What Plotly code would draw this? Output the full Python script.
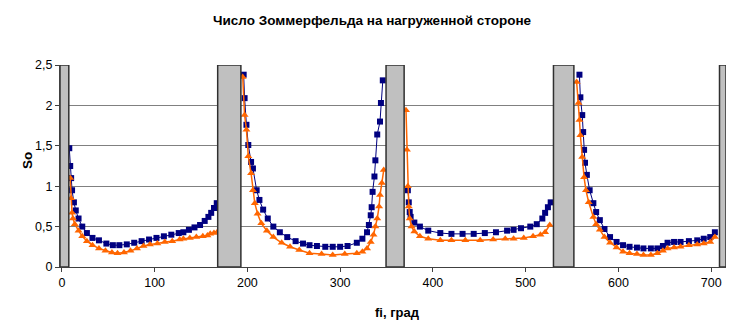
import plotly.graph_objects as go

# ---- data ----
blue_x = [8, 9, 10, 11, 13, 15, 18, 22, 27, 33, 40, 48, 55, 62, 70, 78, 86, 94, 102, 110, 118, 126, 131, 137, 143, 149, 154, 158, 161, 164, 167,
          None,
          196, 197, 199, 201, 204, 206, 210, 213, 217, 222, 228, 235, 243, 252, 260, 267, 275, 284, 292, 300, 308, 318, 324, 329, 331, 333, 334, 335, 337, 338, 340, 343, 344, 346,
          None,
          373, 374, 375, 376, 380, 386, 395, 408, 420, 432, 444, 456, 468, 480, 487, 495, 505, 512, 518, 521, 524, 527,
          None,
          558, 559, 561, 562, 563, 564, 566, 569, 573, 576, 580, 585, 591, 598, 605, 612, 620, 627, 635, 642, 648, 653, 660, 667, 676, 685, 692, 699, 704]
blue_y = [1.47, 1.25, 1.10, 0.95, 0.80, 0.70, 0.60, 0.50, 0.42, 0.36, 0.33, 0.29, 0.27, 0.27, 0.28, 0.30, 0.32, 0.34, 0.36, 0.38, 0.40, 0.42, 0.43, 0.46, 0.49, 0.52, 0.57, 0.62, 0.67, 0.73, 0.79,
          None,
          2.38, 2.09, 1.76, 1.51, 1.30, 1.22, 0.95, 0.83, 0.71, 0.60, 0.50, 0.43, 0.37, 0.32, 0.29, 0.27, 0.26, 0.25, 0.25, 0.25, 0.26, 0.30, 0.35, 0.43, 0.52, 0.64, 0.74, 0.93, 1.12, 1.32, 1.64, 1.80, 2.03, 2.31,
          None,
          0.95, 0.80, 0.68, 0.62, 0.55, 0.50, 0.45, 0.42, 0.41, 0.41, 0.41, 0.42, 0.43, 0.45, 0.46, 0.48, 0.50, 0.53, 0.60, 0.67, 0.74, 0.80,
          None,
          2.38, 2.10, 1.88, 1.67, 1.45, 1.29, 1.14, 0.95, 0.79, 0.68, 0.58, 0.47, 0.37, 0.31, 0.27, 0.25, 0.24, 0.23, 0.23, 0.23, 0.26, 0.30, 0.31, 0.31, 0.32, 0.33, 0.35, 0.37, 0.43]

orange_x = [9, 10, 11, 12, 14, 18, 22, 27, 33, 40, 47, 54, 60, 67, 74, 81, 88, 95, 103, 111, 119, 127, 131, 138, 145, 152, 157, 160, 164, 168,
            None,
            195, 197, 199, 201, 204, 206, 208, 211, 215, 221, 228, 237, 246, 256, 267, 280, 292, 305, 318, 324, 329, 333, 336, 338, 340, 342, 343, 345, 347,
            None,
            371, 372, 373, 374, 375, 377, 380, 386, 395, 408, 420, 435, 451, 465, 478, 487, 498, 508, 516, 521, 526,
            None,
            555, 557, 558, 559, 561, 563, 565, 568, 573, 576, 580, 585, 591, 598, 605, 612, 620, 627, 635, 642, 648, 653, 660, 667, 676, 685, 692, 699, 704]
orange_y = [1.10, 0.85, 0.67, 0.60, 0.53, 0.45, 0.38, 0.32, 0.27, 0.23, 0.20, 0.18, 0.17, 0.18, 0.20, 0.23, 0.26, 0.28, 0.29, 0.31, 0.32, 0.34, 0.35, 0.36, 0.37, 0.38, 0.39, 0.41, 0.42, 0.44,
            None,
            2.35, 1.88, 1.70, 1.37, 1.16, 0.95, 0.79, 0.66, 0.54, 0.45, 0.37, 0.30, 0.25, 0.21, 0.17, 0.16, 0.15, 0.16, 0.17, 0.19, 0.23, 0.31, 0.40, 0.50, 0.60, 0.75, 0.89, 1.04, 1.20,
            None,
            1.94, 1.45, 1.00, 0.75, 0.60, 0.50, 0.44, 0.38, 0.35, 0.33, 0.33, 0.33, 0.33, 0.34, 0.35, 0.35, 0.36, 0.38, 0.40, 0.43, 0.52,
            None,
            2.29, 2.03, 1.82, 1.63, 1.36, 1.11, 0.95, 0.80, 0.62, 0.53, 0.46, 0.37, 0.30, 0.24, 0.19, 0.17, 0.16, 0.15, 0.15, 0.17, 0.20, 0.23, 0.24, 0.25, 0.27, 0.28, 0.29, 0.31, 0.37]

gray_zones = [(-2, 7.5), (168, 193), (349.5, 369), (530, 552), (709, 716)]

x_ticks = [0, 100, 200, 300, 400, 500, 600, 700]
y_ticks = [0, 0.5, 1, 1.5, 2, 2.5]

title_text = "Число Зоммерфельда на нагруженной стороне"
x_title = "fi, град"
y_title = "So"

FONT = "Liberation Sans, Arial, sans-serif"

# page body has an 8px margin; figure sized so the plot lands where the reference has it
PW, PH = 666, 202  # plot area size in px

fig = go.Figure()
fig.add_trace(go.Scatter(
    x=blue_x, y=blue_y, mode="lines+markers",
    line=dict(color="#000080", width=1),
    marker=dict(symbol="square", size=6, color="#000080"),
    connectgaps=False, showlegend=False))
fig.add_trace(go.Scatter(
    x=orange_x, y=orange_y, mode="lines+markers",
    line=dict(color="#FF6600", width=1.5),
    marker=dict(symbol="triangle-up", size=7, color="#FF6600"),
    connectgaps=False, showlegend=False))

for x0, x1 in gray_zones:
    fig.add_shape(type="rect", xref="x", yref="y", x0=x0, x1=x1, y0=0, y1=2.5,
                  fillcolor="#C0C0C0", line=dict(color="#303030", width=1.5), layer="above")

fig.update_layout(
    width=733, height=313,
    margin=dict(l=52, r=15, t=57, b=54),
    paper_bgcolor="white", plot_bgcolor="white",
    separators=", ",
    font=dict(family=FONT, size=12, color="#000000"),
    showlegend=False,
)
fig.add_annotation(text="<b>" + title_text + "</b>", xref="paper", yref="paper",
                   x=(372 - 60) / PW, y=1 + (65 - 20) / PH, showarrow=False,
                   font=dict(size=13.5, family=FONT), xanchor="center", yanchor="middle")
fig.add_annotation(text="<b>" + x_title + "</b>", xref="paper", yref="paper",
                   x=(397 - 60) / PW, y=-(312 - 267) / PH, showarrow=False,
                   font=dict(size=13, family=FONT), xanchor="center", yanchor="middle")
fig.add_annotation(text="<b>" + y_title + "</b>", xref="paper", yref="paper",
                   x=-(60 - 27) / PW, y=(267 - 161) / PH, showarrow=False, textangle=-90,
                   font=dict(size=13.5, family=FONT), xanchor="center", yanchor="middle")

fig.update_xaxes(range=[-2, 716], tickvals=x_ticks, showgrid=False, zeroline=False,
                 showline=True, linecolor="#404040", linewidth=1,
                 ticks="outside", ticklen=4, tickcolor="#404040",
                 tickfont=dict(size=12.5, color="#000000"))
fig.update_yaxes(range=[0, 2.5], tickvals=y_ticks, showgrid=True, gridcolor="#808080", gridwidth=1,
                 zeroline=False, showline=True, linecolor="#404040", linewidth=1,
                 ticks="outside", ticklen=4, tickcolor="#404040",
                 tickfont=dict(size=12.5, color="#000000"))

fig.write_html("out.html")
